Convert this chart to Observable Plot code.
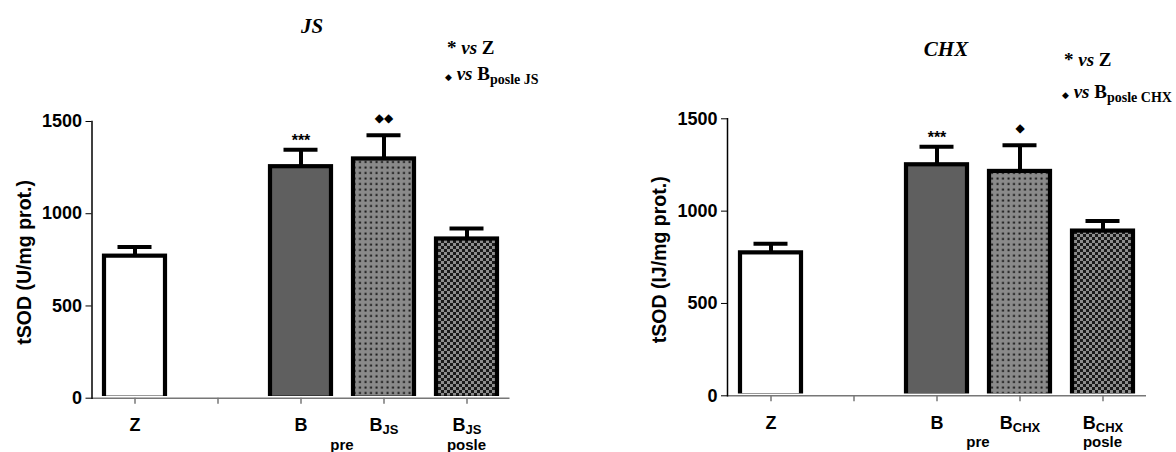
<!DOCTYPE html>
<html>
<head>
<meta charset="utf-8">
<script src="https://cdn.jsdelivr.net/npm/d3@7"></script>
<script src="https://cdn.jsdelivr.net/npm/@observablehq/plot@0.6"></script>
<style>
  body { margin: 0; background: #fff; }
  #wrap { display: flex; width: 1176px; height: 452px; }
  #wrap > div { width: 588px; height: 452px; flex: none; }
</style>
</head>
<body>
<svg width="0" height="0" style="position:absolute">
  <defs>
    <pattern id="dotPattern" patternUnits="userSpaceOnUse" width="5.5" height="5.5">
      <rect width="5.5" height="5.5" fill="#8a8a8a"></rect>
      <rect x="1.5" y="1.5" width="2" height="2" fill="#151515"></rect>
    </pattern>
    <pattern id="checkPattern" patternUnits="userSpaceOnUse" width="6" height="6">
      <rect width="6" height="6" fill="#1a1a1a"></rect>
      <rect x="0" y="0" width="3" height="3" fill="#8e8e8e"></rect>
      <rect x="3" y="3" width="3" height="3" fill="#8e8e8e"></rect>
    </pattern>
  </defs>
</svg>
<div id="wrap"><div id="left"></div><div id="right"></div></div>
<script>
// ---- data ----
const slots = ["Z", "gap", "B", "Bd", "Bdp"];
const slotLabels = ["Z", "", "B", "B", "B"];
const groups = ["Z", "B", "Bd", "Bdp"];
const yTicks = [0, 500, 1000, 1500];

const jsMeans = [770, 1255, 1297, 863];
const jsSEM = [50, 92, 128, 57];
const jsStars = ["", "***", "", ""];
const jsDiamonds = ["", "", "◆◆", ""];

const chxMeans = [774, 1251, 1215, 892];
const chxSEM = [49, 97, 142, 54];
const chxStars = ["", "***", "", ""];
const chxDiamonds = ["", "", "◆", ""];

// ---- styles ----
const fills = ["white", "#5f5f5f", "url(#dotPattern)", "url(#checkPattern)"];
const SANS = "'Liberation Sans', Arial, sans-serif";
const SERIF = "'Liberation Serif', 'Times New Roman', serif";

function panel(o) {
  const data = groups.map((g, i) => ({
    g, v: o.means[i], e: o.means[i] + o.sem[i],
    s: o.stars[i], d: o.diamonds[i], f: fills[i]
  }));
  const plot = Plot.plot({
    width: 588, height: 452,
    marginLeft: o.ml, marginRight: o.mr, marginTop: o.mt, marginBottom: o.mb,
    style: {fontFamily: SANS, fontWeight: "bold", fontSize: "18px", color: "black", background: "white", overflow: "visible"},
    x: {domain: slots, paddingInner: 0.26, paddingOuter: 0.13},
    y: {domain: [0, 1500]},
    color: {type: "identity"},
    marks: [
      Plot.ruleX(data, {x: "g", y1: "v", y2: "e", strokeWidth: 4, stroke: "black"}),
      Plot.tickY(data, {x: "g", y: "e", strokeWidth: 4, stroke: "black", inset: 13.5}),
      Plot.barY(data, {x: "g", y: "v", fill: "f", stroke: "black", strokeWidth: 4.2}),
      Plot.ruleY([0], {stroke: "white", strokeWidth: 4.6}),
      Plot.ruleY([0], {stroke: "#777", strokeWidth: 1.5}),
      Plot.frame({anchor: "left", stroke: "black", strokeWidth: 1.5}),
      Plot.axisY({ticks: yTicks, tickSize: 6, tickPadding: 4, label: null, fontSize: 18, tickFormat: d => String(d)}),
      Plot.axisX({tickSize: 6, tickPadding: 14, stroke: "#777", strokeWidth: 1.5, label: null, fontSize: 18,
                  tickFormat: d => slotLabels[slots.indexOf(d)]}),
      Plot.text(data, {x: "g", y: "e", text: "s", dy: -9, fontSize: 16, fontWeight: "bold"}),
      Plot.text(data, {x: "g", y: "e", text: "d", dy: -17, fontSize: 12, fontFamily: "'DejaVu Sans', sans-serif"})
    ]
  });

  const svg = d3.select(plot);
  const x = plot.scale("x");
  const bw = x.bandwidth;
  const cx = k => x.apply(k) + bw / 2;
  const top = o.mt, bottom = 452 - o.mb;

  // subscripts for the x tick labels
  const bLabels = svg.selectAll('g[aria-label="x-axis tick label"] text')
    .filter(function () { return this.textContent === "B"; }).nodes();
  [bLabels[1], bLabels[2]].forEach(n => {
    if (!n) return;
    d3.select(n).append("tspan").attr("dy", 3).attr("font-size", 13).text(o.sub);
  });
  // second-line labels
  const extra = [
    {x: (cx("B") + cx("Bd")) / 2, t: "pre"},
    {x: cx("Bdp"), t: "posle"}
  ];
  svg.append("g").selectAll("text").data(extra).join("text")
    .attr("x", d => d.x).attr("y", bottom + 52)
    .attr("text-anchor", "middle").attr("font-size", 15).attr("font-weight", "bold")
    .attr("font-family", SANS).attr("fill", "black").text(d => d.t);

  // y-axis title
  svg.append("text")
    .attr("transform", `translate(${o.ml - 61},${(top + bottom) / 2 + 3}) rotate(-90)`)
    .attr("text-anchor", "middle").attr("font-family", SANS).attr("font-weight", "bold")
    .attr("font-size", 19.5).attr("fill", "black").text(o.ylabel);

  // title
  svg.append("text").attr("x", o.titleX).attr("y", o.titleY)
    .attr("text-anchor", "middle").attr("font-family", SERIF)
    .attr("font-style", "italic").attr("font-weight", "bold").attr("font-size", 21)
    .attr("fill", "black").text(o.title);

  // legend
  const lg = svg.append("g").attr("font-family", SERIF).attr("font-weight", "bold")
    .attr("fill", "black").attr("text-anchor", "start");
  const l1 = lg.append("text").attr("x", o.legX).attr("y", o.legY1).attr("font-size", 19);
  l1.append("tspan").text("*");
  l1.append("tspan").attr("font-style", "italic").text(" vs ");
  l1.append("tspan").text("Z");
  const l2 = lg.append("text").attr("x", o.legX - 2).attr("y", o.legY2).attr("font-size", 19);
  l2.append("tspan").attr("font-size", 9).attr("font-family", "'DejaVu Sans', sans-serif").text("◆");
  l2.append("tspan").attr("font-style", "italic").text(" vs ");
  l2.append("tspan").text("B");
  l2.append("tspan").attr("font-size", 14).attr("dy", 4).text(o.legSub);

  return plot;
}

document.getElementById("left").appendChild(panel({
  means: jsMeans, sem: jsSEM, stars: jsStars, diamonds: jsDiamonds,
  ml: 91.5, mr: 78.5, mt: 121, mb: 54.3,
  ylabel: "tSOD (U/mg prot.)", sub: "JS", title: "JS", titleX: 312, titleY: 33,
  legX: 447, legY1: 54, legY2: 80, legSub: "posle JS"
}));
document.getElementById("right").appendChild(panel({
  means: chxMeans, sem: chxSEM, stars: chxStars, diamonds: chxDiamonds,
  ml: 139, mr: 30, mt: 118.3, mb: 56.7,
  ylabel: "tSOD (IJ/mg prot.)", sub: "CHX", title: "CHX", titleX: 358, titleY: 56,
  legX: 476, legY1: 66, legY2: 98, legSub: "posle CHX"
}));
</script>
</body>
</html>
